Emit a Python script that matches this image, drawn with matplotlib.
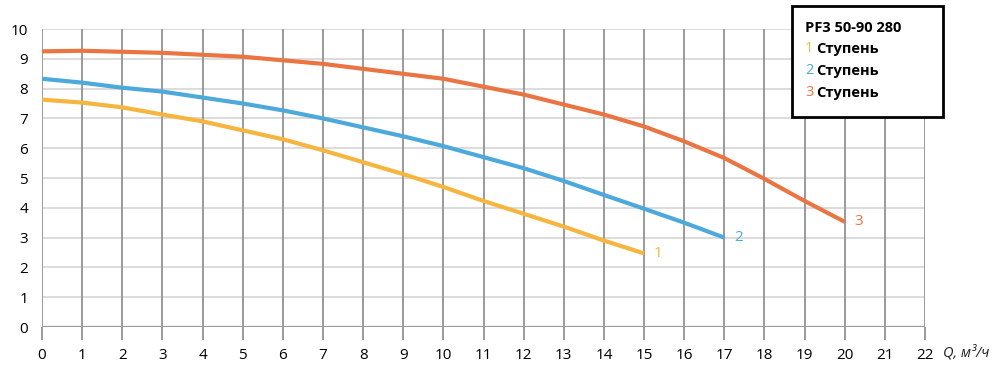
import matplotlib.pyplot as plt
import numpy as np

plt.rcParams['font.family'] = ['Open Sans', 'DejaVu Sans']

# curve data (Q in m3/h, head in m)
q1 = [0, 1, 2, 3, 4, 5, 6, 7, 8, 9, 10, 11, 12, 13, 14, 15]
h1 = [7.63, 7.53, 7.37, 7.13, 6.9, 6.6, 6.3, 5.93, 5.53, 5.13, 4.7, 4.23, 3.8, 3.37, 2.9, 2.47]

q2 = [0, 1, 2, 3, 4, 5, 6, 7, 8, 9, 10, 11, 12, 13, 14, 15, 16, 17]
h2 = [8.33, 8.2, 8.03, 7.9, 7.7, 7.5, 7.27, 7.0, 6.7, 6.4, 6.07, 5.7, 5.33, 4.9, 4.43, 3.97, 3.5, 3.0]

q3 = [0, 1, 3, 5, 7, 10, 12, 14, 15, 16, 17, 18, 19, 20]
h3 = [9.25, 9.27, 9.2, 9.07, 8.83, 8.33, 7.8, 7.13, 6.73, 6.23, 5.67, 4.97, 4.23, 3.53]

names = ['1', '2', '3']
colors = ['#F5B53F', '#4DA9DB', '#EA7543']
title = 'PF3 50-90 280'
step_label = 'Ступень'

fig = plt.figure(figsize=(10, 3.69), dpi=100)
ax = fig.add_axes([0.042, 0.1138, 0.883, 0.8076])

for i in range(1, 11):
    ax.axhline(i, color='#d9d9d9', lw=1.3, zorder=1)
for i in range(23):
    ax.axvline(i, color='#9a9a9a', lw=1.4, zorder=1)
ax.axhline(0, color='#9a9a9a', lw=1.6, zorder=2)

for q, h, c, n in zip([q1, q2, q3], [h1, h2, h3], colors, names):
    ax.plot(q, h, color=c, lw=3, zorder=3, solid_capstyle='butt')
    ax.text(q[-1] + 0.25, h[-1], n, color=c, fontsize=11, va='center', ha='left')

ax.set_xlim(0, 22)
ax.set_ylim(0, 10)
ax.set_xticks(range(23))
ax.set_yticks(range(11))
for s in ax.spines.values():
    s.set_visible(False)
ax.tick_params(axis='x', length=9, width=1.4, color='#9a9a9a', labelsize=11, pad=6)
ax.tick_params(axis='y', length=0, labelsize=11, pad=10)

ax.text(22.45, -0.85, 'Q, м³/ч', style='italic', fontsize=10.5, va='center', ha='left', color='#222222', clip_on=False)

# legend box
fig.patches.append(plt.Rectangle((0.792, 0.683), 0.151, 0.302, transform=fig.transFigure,
                                 facecolor='white', edgecolor='black', lw=2, zorder=5))
fig.text(0.805, 0.925, title, fontsize=10.5, fontweight='bold', va='center', zorder=6)
for k, (n, c) in enumerate(zip(names, colors)):
    y = 0.868 - k * 0.06
    fig.text(0.805, y, n, color=c, fontsize=10.5, va='center', zorder=6)
    fig.text(0.816, y, step_label, color='black', fontsize=10.5, fontweight='bold', va='center', zorder=6)

fig.savefig('out.png', dpi=100)
